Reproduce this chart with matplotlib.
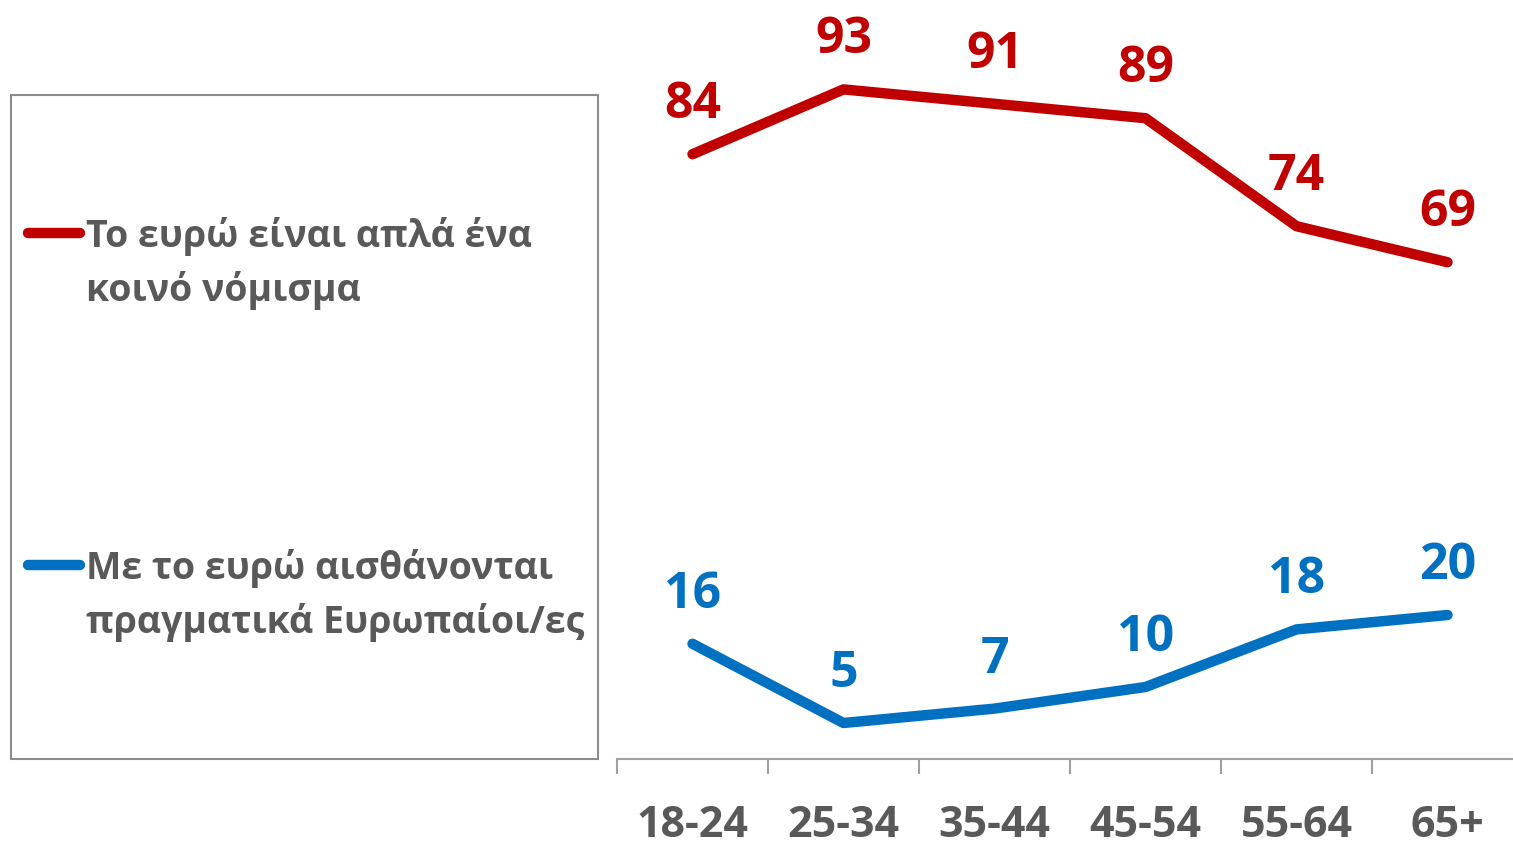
import matplotlib
matplotlib.use('Agg')
import matplotlib.pyplot as plt
from matplotlib.patches import Rectangle
from matplotlib.lines import Line2D

plt.rcParams['font.family'] = ['Open Sans', 'DejaVu Sans']

# Data
age_groups = ['18-24', '25-34', '35-44', '45-54', '55-64', '65+']
common_currency = [84, 93, 91, 89, 74, 69]
feel_european = [16, 5, 7, 10, 18, 20]
series_names = ['Το ευρώ είναι απλά ένα\nκοινό νόμισμα',
                'Με το ευρώ αισθάνονται\nπραγματικά Ευρωπαίοι/ες']

red = '#C00000'
blue = '#0070C0'
grey_text = '#595959'
axis_grey = '#A0A0A0'

W, H = 1513, 845
fig = plt.figure(figsize=(W / 100, H / 100), dpi=100)

# axes placed in pixel terms
left, right, bottom, top = 617, 1523, 760, 40
ax = fig.add_axes([left / W, (H - bottom) / H, (right - left) / W, (bottom - top) / H])
ax.set_xlim(-0.5, len(age_groups) - 0.5)
ax.set_ylim(0, 100)

x = list(range(len(age_groups)))
for vals, col in [(common_currency, red), (feel_european, blue)]:
    ax.plot(x, vals, color=col, lw=7.5, solid_capstyle='round', solid_joinstyle='round', clip_on=False)
    for xi, v in zip(x, vals):
        ax.annotate(str(v), (xi, v), xytext=(0, 36), textcoords='offset points',
                    ha='center', va='center', fontsize=36, fontweight='bold',
                    color=col, annotation_clip=False)

for s in ['left', 'top', 'right']:
    ax.spines[s].set_visible(False)
ax.spines['bottom'].set_color(axis_grey)
ax.spines['bottom'].set_linewidth(1.5)
ax.set_yticks([])
ax.set_xticks(x)
ax.set_xticklabels(age_groups, fontsize=31, fontweight='bold', color=grey_text)
ax.tick_params(axis='x', which='major', length=0, pad=32)
ax.set_xticks([i - 0.5 for i in range(len(age_groups) + 1)], minor=True)
ax.tick_params(axis='x', which='minor', length=11, width=1.5, color=axis_grey)

# legend box drawn by hand
box = Rectangle((11 / W, (H - 760) / H), (598 - 11) / W, (760 - 96) / H,
                transform=fig.transFigure, fill=False, edgecolor='#8C8C8C', lw=1.5)
fig.add_artist(box)
for name, col, ypx in [(series_names[0], red, 234), (series_names[1], blue, 566)]:
    yf = (H - ypx) / H
    fig.add_artist(Line2D([28 / W, 80 / W], [yf, yf], transform=fig.transFigure,
                          color=col, lw=7.5, solid_capstyle='round'))
    fig.text(86 / W, (H - ypx + 17) / H, name, fontsize=27, fontweight='bold',
             color=grey_text, va='top', ha='left', linespacing=1.5)

fig.savefig('out.png', dpi=100)
